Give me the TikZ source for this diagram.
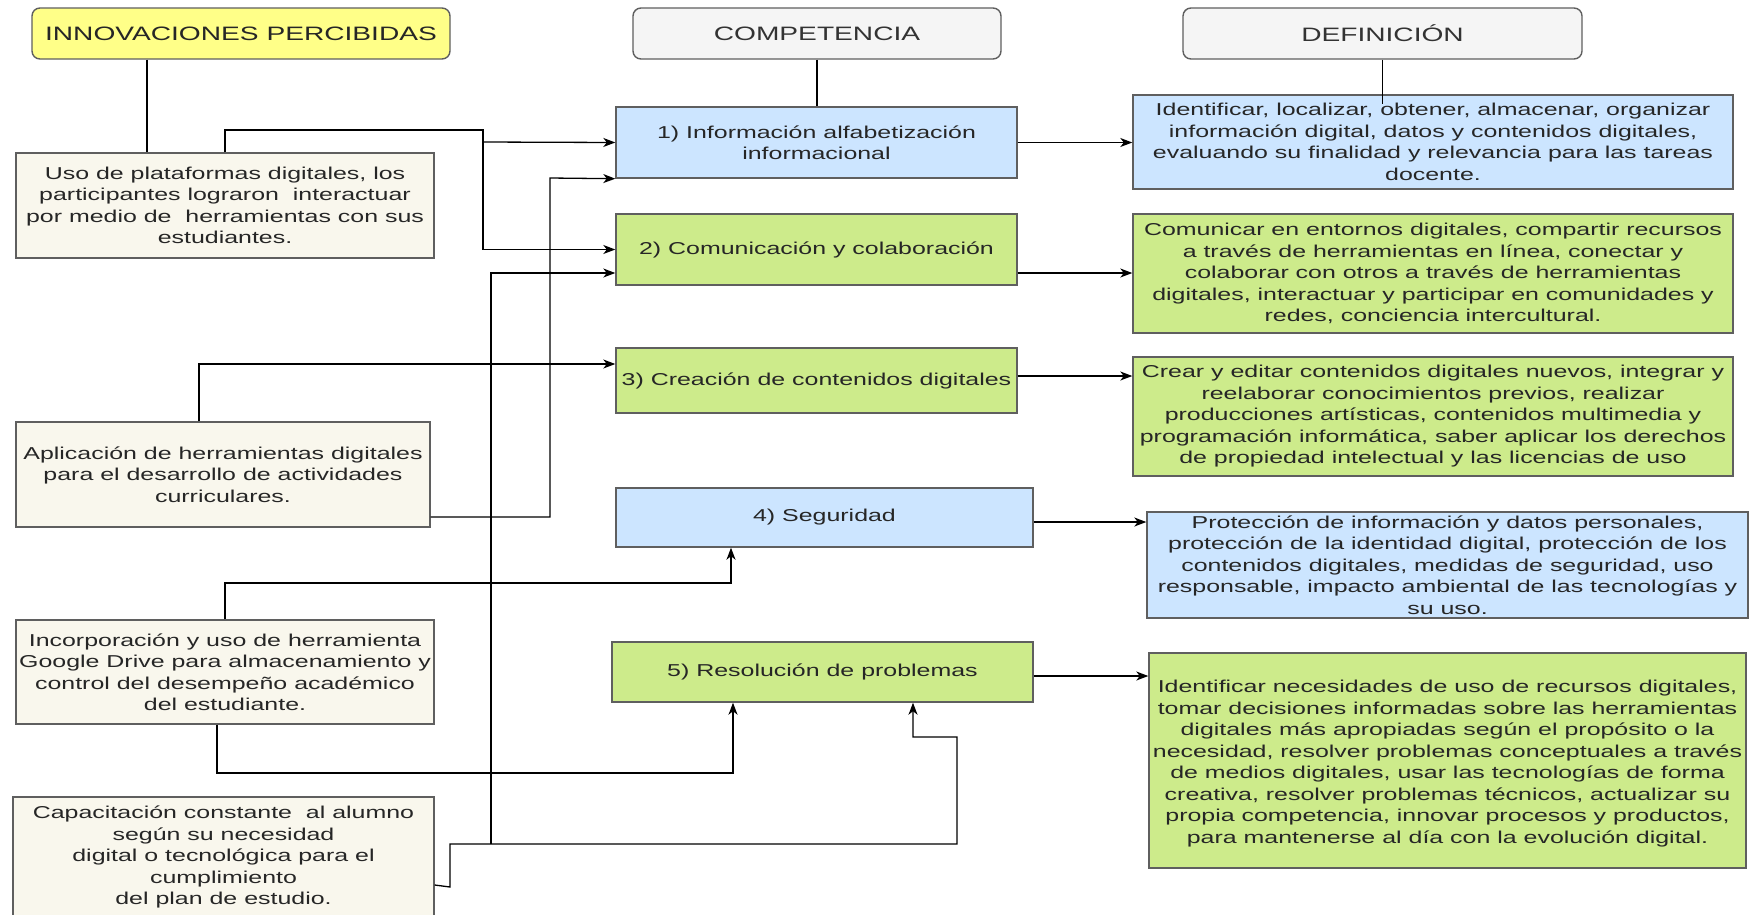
\documentclass[tikz,border=0pt]{standalone}
\usepackage{fontspec}
\setmainfont{Liberation Sans}[FakeStretch=1.45]
\usetikzlibrary{arrows.meta}
\definecolor{yel}{HTML}{FFFF88}
\definecolor{hdr}{HTML}{F5F5F5}
\definecolor{blu}{HTML}{CCE5FF}
\definecolor{grn}{HTML}{CDEB8B}
\definecolor{crm}{HTML}{F9F7ED}
\definecolor{brd}{HTML}{5F5F5F}
\definecolor{txt}{HTML}{262626}
\definecolor{htxt}{HTML}{333333}
\begin{document}
\begin{tikzpicture}[x=1pt,y=-1pt,
  box/.style={draw=brd,line width=1.4pt,inner sep=0pt,align=center,text=txt,font=\fontsize{17.2}{21.5}\selectfont},
  hbox/.style={box,rounded corners=8pt,text=htxt,font=\fontsize{19.4}{23}\selectfont},
  ln/.style={draw=black,line width=1.3pt},
  ar/.style={ln,-{Stealth[length=12pt,width=9pt,inset=3.5pt]}}]
\useasboundingbox (0,0) rectangle (1753,914);
\fill[white] (0,0) rectangle (1753,914);

% headers
\node[hbox,fill=yel,text=txt,minimum width=418pt,minimum height=51pt] (innov) at (241,33.5) {INNOVACIONES PERCIBIDAS};
\node[hbox,fill=hdr,minimum width=368pt,minimum height=51pt] (comp) at (817,33.5) {COMPETENCIA};
\node[hbox,fill=hdr,minimum width=399pt,minimum height=51pt] (defh) at (1382.5,33.5) {DEFINICIÓN};

% competencias
\node[box,fill=blu,minimum width=401pt,minimum height=71pt] (b1) at (816.5,142.5) {1) Información alfabetización\\informacional};
\node[box,fill=grn,minimum width=401pt,minimum height=71pt] (b2) at (816.5,249.5) {2) Comunicación y colaboración};
\node[box,fill=grn,minimum width=401pt,minimum height=65pt] (b3) at (816.5,380.5) {3) Creación de contenidos digitales};
\node[box,fill=blu,minimum width=417pt,minimum height=59pt] (b4) at (824.5,517.5) {4) Seguridad};
\node[box,fill=grn,minimum width=421pt,minimum height=60pt] (b5) at (822.5,672) {5) Resolución de problemas};

% definiciones
\node[box,fill=blu,minimum width=600pt,minimum height=94pt] (d1) at (1433,142) {Identificar, localizar, obtener, almacenar, organizar\\información digital, datos y contenidos digitales,\\evaluando su finalidad y relevancia para las tareas\\docente.};
\node[box,fill=grn,minimum width=600pt,minimum height=119pt] (d2) at (1433,273.5) {Comunicar en entornos digitales, compartir recursos\\a través de herramientas en línea, conectar y\\colaborar con otros a través de herramientas\\digitales, interactuar y participar en comunidades y\\redes, conciencia intercultural.};
\node[box,fill=grn,minimum width=600pt,minimum height=119pt] (d3) at (1433,416.5) {Crear y editar contenidos digitales nuevos, integrar y\\reelaborar conocimientos previos, realizar\\producciones artísticas, contenidos multimedia y\\programación informática, saber aplicar los derechos\\de propiedad intelectual y las licencias de uso};
\node[box,fill=blu,minimum width=601pt,minimum height=106pt] (d4) at (1447.5,565) {Protección de información y datos personales,\\protección de la identidad digital, protección de los\\contenidos digitales, medidas de seguridad, uso\\responsable, impacto ambiental de las tecnologías y\\su uso.};
\node[box,fill=grn,minimum width=597pt,minimum height=215pt] (d5) at (1447.5,760.5) {\rule{0pt}{19pt}Identificar necesidades de uso de recursos digitales,\\tomar decisiones informadas sobre las herramientas\\digitales más apropiadas según el propósito o la\\necesidad, resolver problemas conceptuales a través\\de medios digitales, usar las tecnologías de forma\\creativa, resolver problemas técnicos, actualizar su\\propia competencia, innovar procesos y productos,\\para mantenerse al día con la evolución digital.};

% innovaciones
\node[box,fill=crm,minimum width=418pt,minimum height=105pt] (ua) at (225,205.5) {Uso de plataformas digitales, los\\participantes lograron~ interactuar\\por medio de~ herramientas con sus\\estudiantes.};
\node[box,fill=crm,minimum width=414pt,minimum height=105pt] (ub) at (223,474.5) {Aplicación de herramientas digitales\\para el desarrollo de actividades\\curriculares.};
\node[box,fill=crm,minimum width=418pt,minimum height=104pt] (uc) at (225,672) { Incorporación y uso de herramienta\\Google Drive para almacenamiento y\\control del desempeño académico\\del estudiante.};
\node[box,fill=crm,minimum width=421pt,minimum height=120pt] (ud) at (223.5,857) {Capacitación constante~ al alumno\\según su necesidad\\digital o tecnológica para el\\cumplimiento\\del plan de estudio.};

% header connectors
\draw[ln] (innov.south -| 147,0) -- (ua.north -| 147,0);
\draw[ln] (comp.south) -- (comp.south |- b1.north);
\draw[ln] (defh.south) -- ([yshift=-10pt]defh.south |- d1.north);

% competencia -> definicion
\draw[ar] (b1.east) -- (d1.west |- b1.east);
\draw[ar] (b2.east |- 0,273) -- (d2.west |- 0,273);
\draw[ar] (b3.east |- 0,376) -- (d3.west |- 0,376);
\draw[ar] (b4.east |- 0,522) -- (d4.west |- 0,522);
\draw[ar] (b5.east |- 0,676) -- (d5.west |- 0,676);

% A
\coordinate (ja) at (483,142);
\draw[ar] (ua.north) |- (483,130) |- (b2.west);
\draw[ar] (ja) -- (b1.west);
% B
\draw[ar] (ub.east |- 0,517) -| (550,178) -- (b1.south west);
\draw[ar] (ub.north -| 199,0) |- (b3.west |- 0,364);
% C
\draw[ar] (uc.north) |- (731,583) -- (b4.south -| 731,0);
\draw[ar] (uc.south -| 217,0) |- (733,773) -- (b5.south -| 733,0);
% D
\coordinate (jd) at (491,844);
\draw[ar] (ud.east |- 0,885) -- (450,887) -- (450,844) -| (957,737) -| (b5.south -| 913,0);
\draw[ar] (jd) |- (b2.west |- 0,273);
\end{tikzpicture}
\end{document}
